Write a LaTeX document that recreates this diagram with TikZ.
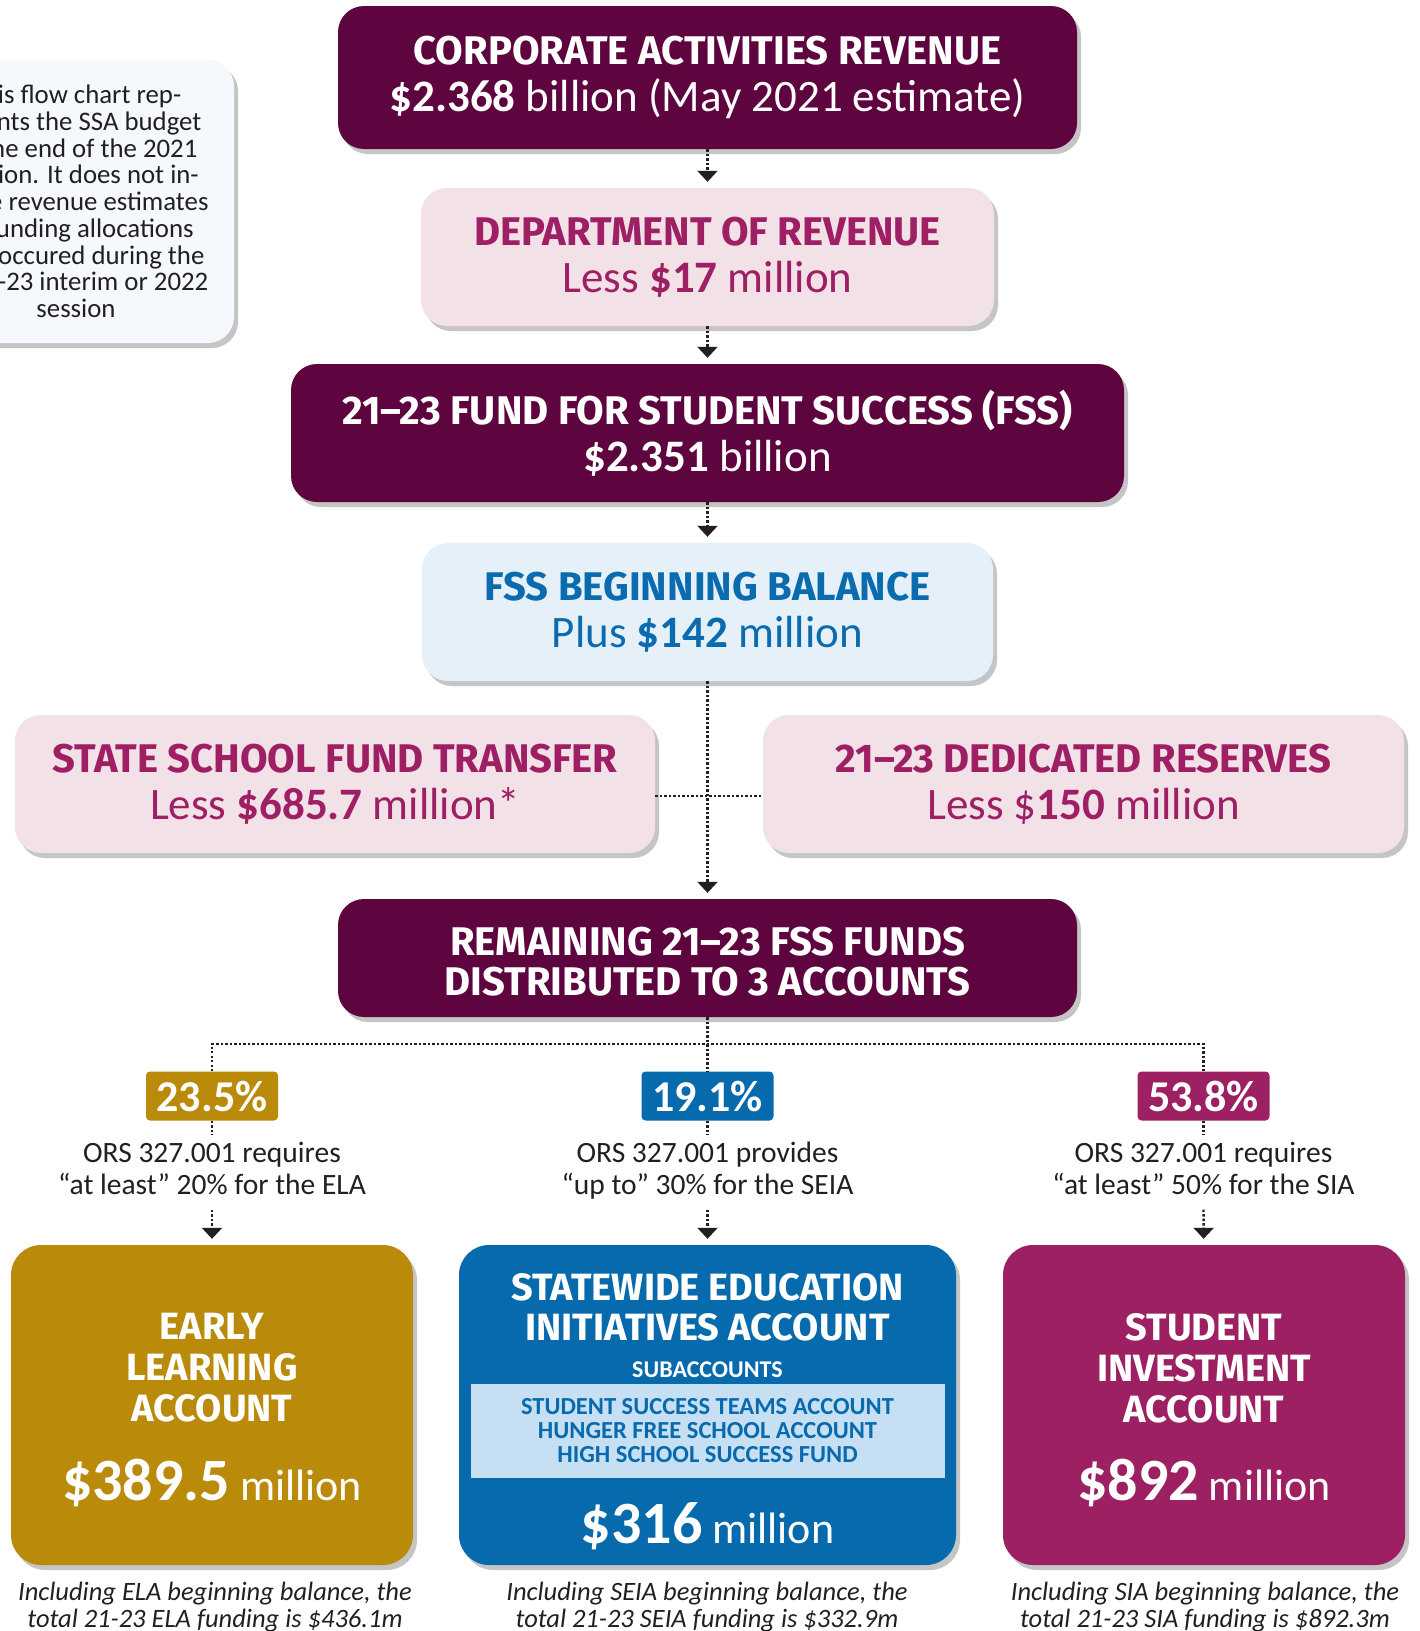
\documentclass[tikz,border=0pt]{standalone}
\usepackage{fontspec}
\setmainfont{Carlito}
\newfontfamily\headfont{Fira Sans}
\usetikzlibrary{arrows.meta,shadows}
\definecolor{plum}{HTML}{5E0540}
\definecolor{pinkfill}{HTML}{F2E1E7}
\definecolor{pinktext}{HTML}{9E1F63}
\definecolor{bluefill}{HTML}{E5F0F9}
\definecolor{bluetext}{HTML}{0A6BAE}
\definecolor{gold}{HTML}{BA8A0B}
\definecolor{seiablue}{HTML}{066AAD}
\definecolor{siamag}{HTML}{9D2063}
\definecolor{subfill}{HTML}{C6DFF3}
\definecolor{notefill}{HTML}{F5F9FD}
\definecolor{ink}{HTML}{231F20}
\newcommand{\hd}[2][40]{{\headfont\bfseries\fontsize{#1}{#1}\selectfont #2}}
\newcommand{\sr}{\rule[-8pt]{0pt}{29pt}}
\tikzset{
  shade/.style={drop shadow={shadow xshift=4pt, shadow yshift=-5pt, fill=black!45, opacity=.5}},
  box/.style={rounded corners=26pt, align=center, inner sep=0pt, shade, font=\fontsize{45}{47}\selectfont},
  plumbox/.style={box, fill=plum, text=white},
  pinkbox/.style={box, fill=pinkfill, text=pinktext},
  bluebox/.style={box, fill=bluefill, text=bluetext},
  acct/.style={rounded corners=30pt, inner sep=0pt, shade, minimum width=402pt, minimum height=320pt},
  accthd/.style={align=center, inner sep=0pt, text=white, font=\fontsize{38}{41}\selectfont},
  amount/.style={anchor=base, inner sep=0pt, text=white, font=\fontsize{44}{44}\selectfont},
  pct/.style={rounded corners=4pt, minimum width=132pt, minimum height=49pt, inner sep=0pt,
    text=white, font=\bfseries\fontsize{44}{44}\selectfont},
  rule/.style={align=center, inner sep=7pt, text=ink, font=\fontsize{29.5}{32}\selectfont},
  foot/.style={align=center, inner sep=0pt, text=ink, font=\itshape\fontsize{26.5}{27}\selectfont},
  dots/.style={draw=ink, line width=2.3pt, dash pattern=on 2.3pt off 2.2pt},
  flow/.style={dots, -{Triangle[width=20pt,length=11pt]}, shorten >=6pt}
}
\newcommand{\amt}[1]{{\bfseries\fontsize{60}{60}\selectfont\$#1}}
\begin{document}
\begin{tikzpicture}[x=1pt, y=-1pt]
\path[use as bounding box, fill=white] (0,0) rectangle (1420,1631);
% note
\node[rounded corners=26pt, fill=notefill, shade, minimum width=316pt, minimum height=283pt,
  align=center, inner sep=0pt, text=ink, font=\fontsize{26.8}{26.75}\selectfont] (note) at (76,201.5)
  {This flow chart rep-\\resents the SSA budget\\at the end of the 2021\\session. It does not in-\\clude revenue estimates\\or funding allocations\\that occured during the\\2021-23 interim or 2022\\session};
% main column
\node[plumbox, minimum width=739pt, minimum height=143pt] (car) at (707.5,77.5)
  {\hd{CORPORATE ACTIVITIES REVENUE}\\\textbf{\$2.368} billion (May 2021 estimate)};
\node[pinkbox, minimum width=573pt, minimum height=138pt] (dor) at (707.5,257)
  {\hd{DEPARTMENT OF REVENUE}\\Less \textbf{\$17} million};
\node[plumbox, minimum width=833pt, minimum height=138pt] (fss) at (707.5,433)
  {\hd{21–23 FUND FOR STUDENT SUCCESS (FSS)}\\\textbf{\$2.351} billion};
\node[bluebox, minimum width=571pt, minimum height=138pt] (bal) at (707.5,612)
  {\hd{FSS BEGINNING BALANCE}\\Plus \textbf{\$142} million};
\node[pinkbox, minimum width=640pt, minimum height=138pt] (ssf) at (335,784)
  {\hd{STATE SCHOOL FUND TRANSFER}\\Less \textbf{\$685.7} million*};
\node[pinkbox, minimum width=641pt, minimum height=138pt] (res) at (1083.5,784)
  {\hd{21–23 DEDICATED RESERVES}\\Less \$\textbf{150} million};
\node[plumbox, minimum width=739pt, minimum height=118pt, font=\fontsize{40}{40}\selectfont] (rem) at (707.5,958)
  {\rule{0pt}{36pt}\hd{REMAINING 21–23 FSS FUNDS}\\\hd{DISTRIBUTED TO 3 ACCOUNTS}};
% split into accounts
\node[pct, fill=gold] (p1) at (212,1096) {23.5\%};
\node[pct, fill=seiablue] (p2) at (707.5,1096) {19.1\%};
\node[pct, fill=siamag] (p3) at (1203.5,1096) {53.8\%};
\node[rule] (t1) at (212,1172) {\sr ORS 327.001 requires\\\sr“at least” 20\% for the ELA};
\node[rule] (t2) at (707.5,1172) {\sr ORS 327.001 provides\\\sr“up to” 30\% for the SEIA};
\node[rule] (t3) at (1203.5,1172) {\sr ORS 327.001 requires\\\sr“at least” 50\% for the SIA};
% accounts
\node[acct, fill=gold] (ela) at (212,1405) {};
\node[accthd] (elahd) at (212,1368) {\hd[38]{EARLY}\\\hd[38]{LEARNING}\\\hd[38]{ACCOUNT}};
\node[amount] (elaamt) at (212,1500) {\amt{389.5} million};
\node[acct, fill=seiablue, minimum width=497pt] (seia) at (707.5,1405) {};
\node[accthd, font=\fontsize{38}{40}\selectfont] (seiahd) at (707.5,1307)
  {\hd[38]{STATEWIDE EDUCATION}\\\hd[38]{INITIATIVES ACCOUNT}};
\node[anchor=base, text=white, inner sep=0pt, font=\bfseries\fontsize{24}{24}\selectfont] (subhd) at (707.5,1377) {SUBACCOUNTS};
\node[fill=subfill, minimum width=474pt, minimum height=94pt, align=center, inner sep=0pt, text=seiablue,
  font=\bfseries\fontsize{24.5}{24}\selectfont] (sub) at (707.5,1430.5)
  {STUDENT SUCCESS TEAMS ACCOUNT\\HUNGER FREE SCHOOL ACCOUNT\\HIGH SCHOOL SUCCESS FUND};
\node[amount] (seiaamt) at (707.5,1543) {\amt{316} million};
\node[acct, fill=siamag] (sia) at (1204,1405) {};
\node[accthd] (siahd) at (1204,1368) {\hd[38]{STUDENT}\\\hd[38]{INVESTMENT}\\\hd[38]{ACCOUNT}};
\node[amount] (siaamt) at (1204,1500) {\amt{892} million};
\node[foot] (f1) at (215,1607) {Including ELA beginning balance, the\\total 21-23 ELA funding is \$436.1m};
\node[foot] (f2) at (707,1607) {Including SEIA beginning balance, the\\total 21-23 SEIA funding is \$332.9m};
\node[foot] (f3) at (1205,1607) {Including SIA beginning balance, the\\total 21-23 SIA funding is \$892.3m};
% connectors
\draw[flow] (car) -- (dor);
\draw[flow] (dor) -- (fss);
\draw[flow] (fss) -- (bal);
\draw[flow] (bal) -- (rem);
\draw[dots] ([yshift=-12pt]ssf.east) -- ([yshift=-12pt]res.west);
\coordinate (split) at (707.5,1044);
\draw[dots] (rem) -- (p2);
\draw[dots] (p1.north) |- (split) -| (p3.north);
\foreach \a/\b in {p1/t1,p2/t2,p3/t3} \draw[dots] (\a) -- (\b);
\foreach \a/\b in {t1/ela,t2/seia,t3/sia} \draw[flow] (\a) -- (\b);
\end{tikzpicture}
\end{document}
